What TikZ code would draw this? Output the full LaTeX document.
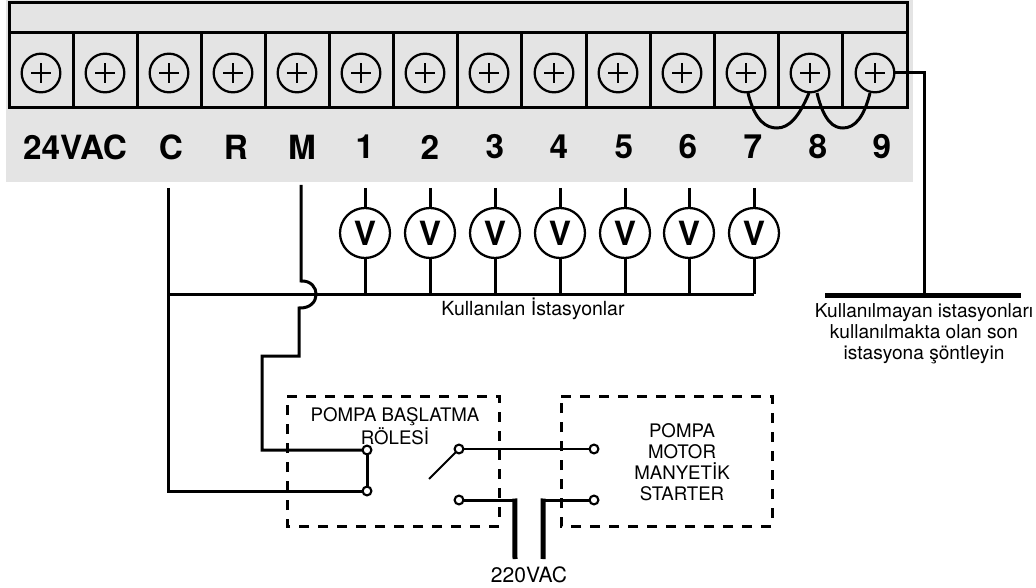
\documentclass[tikz,border=0pt]{standalone}
\usepackage{fontspec}
\setmainfont{TeX Gyre Heros}
\definecolor{panelgray}{HTML}{E4E4E4}
\tikzset{
	wire/.style={line width=2.25pt},
	thinwire/.style={line width=1pt},
	powerwire/.style={line width=3.75pt},
	screw/.style={circle,draw,line width=1.7pt,minimum size=29pt,inner sep=0pt,outer sep=0pt,path picture={\draw[line width=2pt] (path picture bounding box.center)+(-7.5pt,0pt) -- +(7.5pt,0pt) (path picture bounding box.center)+(0pt,-7.5pt) -- +(0pt,7.5pt);}},
	valve/.style={circle,draw,line width=1.7pt,minimum size=37.5pt,inner sep=0pt,outer sep=0pt,font=\fontsize{25}{25}\selectfont\bfseries},
	contact/.style={circle,draw,fill=white,line width=1.6pt,minimum size=6.6pt,inner sep=0pt,outer sep=0pt},
	termlabel/.style={font=\fontsize{25}{25}\selectfont\bfseries,inner sep=0pt},
	note/.style={font=\fontsize{14}{15.7}\selectfont,align=center,inner sep=0pt},
	dashbox/.style={line width=2.25pt,dash pattern=on 7.5pt off 6.75pt},
}
\begin{document}
\begin{tikzpicture}[x=0.75pt,y=-0.75pt]
	\useasboundingbox (0,0) rectangle (1036,588);
	\fill[panelgray] (6,0) rectangle (913,182);
	\draw[wire] (9,3) rectangle (907,108);
	\draw[wire] (9,33) -- (907,33);
	\draw[wire] (73,33) -- (73,108); \draw[wire] (137,33) -- (137,108); \draw[wire] (201,33) -- (201,108); \draw[wire] (265,33) -- (265,108);
	\draw[wire] (329,33) -- (329,108); \draw[wire] (393,33) -- (393,108); \draw[wire] (457,33) -- (457,108); \draw[wire] (521,33) -- (521,108);
	\draw[wire] (586,33) -- (586,108); \draw[wire] (650,33) -- (650,108); \draw[wire] (714,33) -- (714,108); \draw[wire] (778,33) -- (778,108); \draw[wire] (842,33) -- (842,108);

	\node[screw] (s1) at (41,73) {}; \node[screw] (s2) at (105,73) {}; \node[screw] (s3) at (169,73) {}; \node[screw] (s4) at (233,73) {};
	\node[screw] (s5) at (297,73) {}; \node[screw] (s6) at (361,73) {}; \node[screw] (s7) at (425,73) {}; \node[screw] (s8) at (489,73) {};
	\node[screw] (s9) at (554,73) {}; \node[screw] (s10) at (618,73) {}; \node[screw] (s11) at (682,73) {}; \node[screw] (s12) at (746,73) {};
	\node[screw] (s13) at (810,73) {}; \node[screw] (s14) at (875,73) {};

	\node[termlabel] (l24) at (75,147) {24VAC}; \node[termlabel] (lc) at (171,147) {C}; \node[termlabel] (lr) at (236,147) {R}; \node[termlabel] (lm) at (302,147) {M};
	\node[termlabel] (l1) at (365,147) {1}; \node[termlabel] (l2) at (430,147) {2}; \node[termlabel] (l3) at (495,147) {3}; \node[termlabel] (l4) at (559,147) {4};
	\node[termlabel] (l5) at (624,147) {5}; \node[termlabel] (l6) at (688,147) {6}; \node[termlabel] (l7) at (753,147) {7}; \node[termlabel] (l8) at (818,147) {8}; \node[termlabel] (l9) at (882,147) {9};

	\node[valve] (v1) at (365,233) {V}; \node[valve] (v2) at (430,233) {V}; \node[valve] (v3) at (495,233) {V}; \node[valve] (v4) at (560,233) {V};
	\node[valve] (v5) at (625,233) {V}; \node[valve] (v6) at (689,233) {V}; \node[valve] (v7) at (754,233) {V};

	\coordinate (t1) at (365,188); \coordinate (t2) at (430,188); \coordinate (t3) at (495,188); \coordinate (t4) at (560,188);
	\coordinate (t5) at (625,188); \coordinate (t6) at (689,188); \coordinate (t7) at (754,188);
	\coordinate (b1) at (365,294); \coordinate (b2) at (430,294); \coordinate (b3) at (495,294); \coordinate (b4) at (560,294);
	\coordinate (b5) at (625,294); \coordinate (b6) at (689,294); \coordinate (b7) at (754,294);
	\draw[wire] (t1) -- (v1); \draw[wire] (v1) -- (b1); \draw[wire] (t2) -- (v2); \draw[wire] (v2) -- (b2);
	\draw[wire] (t3) -- (v3); \draw[wire] (v3) -- (b3); \draw[wire] (t4) -- (v4); \draw[wire] (v4) -- (b4);
	\draw[wire] (t5) -- (v5); \draw[wire] (v5) -- (b5); \draw[wire] (t6) -- (v6); \draw[wire] (v6) -- (b6);
	\draw[wire] (t7) -- (v7); \draw[wire] (v7) -- (b7);

	\node[contact] (c1) at (367,450) {}; \node[contact] (c2) at (367,491) {};
	\node[contact] (c3) at (459,449) {}; \node[contact] (c4) at (459,500) {};
	\node[contact] (c5) at (594,449) {}; \node[contact] (c6) at (594,500) {};

	\coordinate (ctop) at (168,188); \coordinate (cbus) at (168,294); \coordinate (cbot) at (168,491);
	\draw[wire] (ctop) -- (cbot) -- (c2);
	\draw[wire] (cbus) -- (b7);
	\draw[wire] (c1) -- (c2);

	\coordinate (mtop) at (301,185); \coordinate (m1) at (301,281); \coordinate (m2) at (299,308);
	\coordinate (m3) at (299,356); \coordinate (m4) at (262,356); \coordinate (m5) at (262,450);
	\draw[wire] (mtop) -- (m1) .. controls (321,280) and (322,309) .. (m2) -- (m3) -- (m4) -- (m5) -- (c1);

	\coordinate (j1) at (748,93); \coordinate (j2) at (809,93); \coordinate (j3) at (817,93); \coordinate (j4) at (870,93);
	\draw[wire] (j1) .. controls (755,122) and (767,128) .. (777,128) .. controls (789,128) and (799,117) .. (j2);
	\draw[wire] (j3) .. controls (824,122) and (834,128) .. (843,128) .. controls (855,128) and (864,117) .. (j4);

	\coordinate (r1) at (924,73); \coordinate (r2) at (924,295); \coordinate (r3) at (825,295); \coordinate (r4) at (1021,295);
	\draw[wire] (s14) -- (r1) -- (r2);
	\draw[powerwire] (r3) -- (r4);

	\node[note,font=\fontsize{14.6}{15.7}\selectfont] (used) at (533,309) {Kullanılan İstasyonlar};
	\node[note,font=\fontsize{14.35}{15.7}\selectfont] (unused) at (924,334) {Kullanılmayan istasyonları\\kullanılmakta olan son\\istasyona şöntleyin};

	\draw[dashbox] (287,396) -- (499,396) -- (499,526) -- (287,526) -- cycle;
	\draw[dashbox] (561,396) -- (772,396) -- (772,526) -- (561,526) -- cycle;
	\node[note] (relay) at (395,426) {POMPA BAŞLATMA\\RÖLESİ};
	\node[note] (starter) at (682,462) {POMPA\\MOTOR\\MANYETİK\\STARTER};

	\coordinate (arm) at (429,479);
	\draw[line width=1.5pt] (c3) -- (arm);
	\draw[thinwire] (c3) -- (c5);

	\coordinate (p1) at (515,500); \coordinate (p2) at (515,559); \coordinate (p3) at (543,500); \coordinate (p4) at (543,559);
	\draw[wire] (c4) -- (p1);
	\draw[wire] (c6) -- (p3);
	\draw[powerwire] (514.8,498.5) -- (p2);
	\draw[powerwire] (543.2,498.5) -- (p4);
	\node[note,font=\fontsize{15.8}{15.8}\selectfont] (vac) at (529,575) {220VAC};
\end{tikzpicture}
\end{document}
